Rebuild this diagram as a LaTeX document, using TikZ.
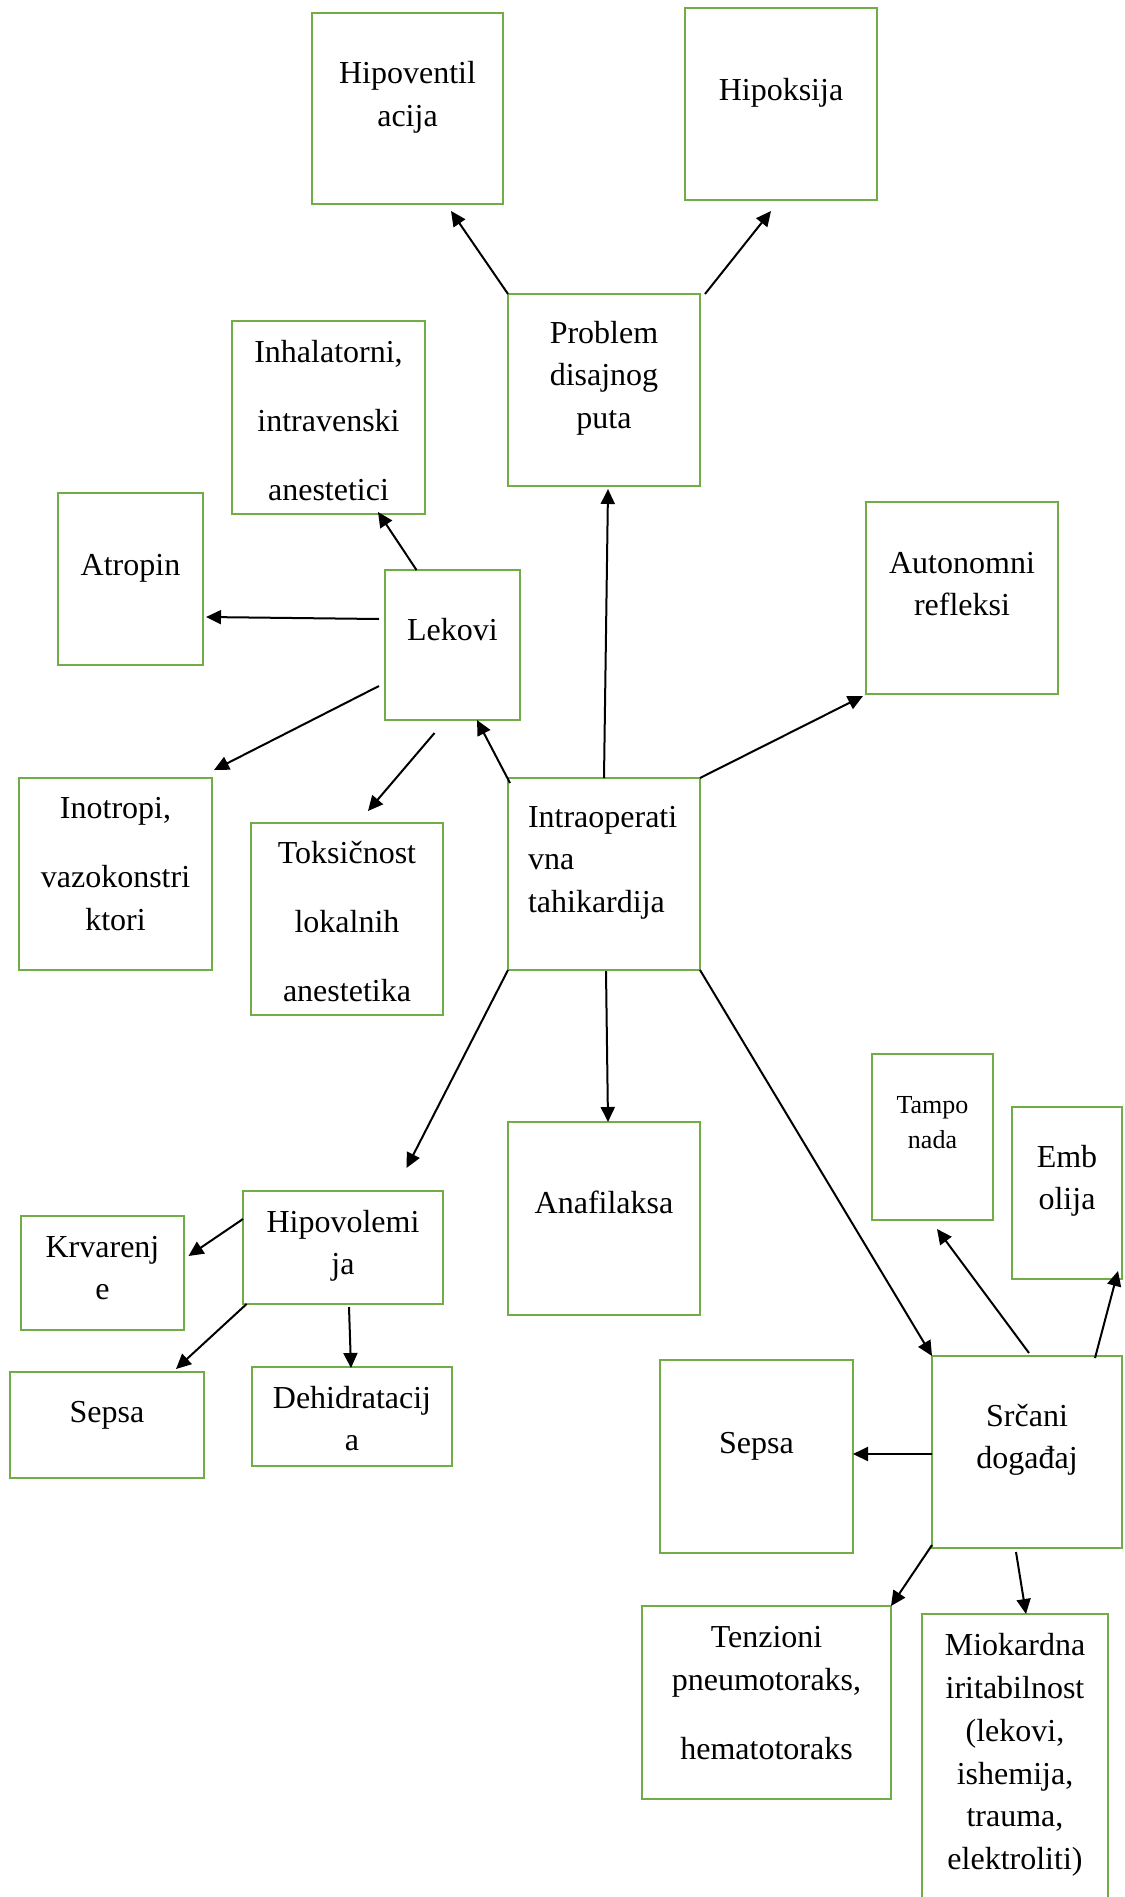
\documentclass[tikz,border=0pt]{standalone}
\usepackage{fontspec}
\setmainfont{Liberation Serif}
\usetikzlibrary{arrows.meta,calc}
\definecolor{boxgreen}{RGB}{112,173,71}
\newcommand\bxt[4]{\parbox[c][#2][t]{#1}{\centering\rule{0pt}{\dimexpr#3+1pt\relax}#4}}
\newcommand\bxl[5]{\parbox[c][#2][t]{#1}{\raggedright\leftskip=#5\relax\rule{0pt}{\dimexpr#3+1pt\relax}#4}}
\begin{document}
\begin{tikzpicture}[x=1pt,y=-1pt,
  box/.style={draw=boxgreen,line width=2.5pt,inner sep=0pt,outer sep=0pt,anchor=north west,font=\fontsize{32}{42.8}\selectfont},
  arr/.style={draw=black,line width=2pt,-{Triangle[length=15pt,width=14pt]}}]
\fill[white] (0,0) rectangle (1124,1897);
\useasboundingbox (0,0) rectangle (1124,1897);

\node[box] (hvent) at (312,13) {\bxt{191pt}{191pt}{69.5pt}{Hipoventil\\acija}};
\node[box] (hoks) at (685,8) {\bxt{192pt}{192pt}{92pt}{Hipoksija}};
\node[box] (prob) at (508,294) {\bxt{192pt}{192pt}{48pt}{Problem\\disajnog\\puta}};
\node[box] (inhal) at (232,321) {\bxt{193pt}{193pt}{40pt}{Inhalatorni,\\[26.2pt]intravenski\\[26.2pt]anestetici}};
\node[box] (atro) at (58,493) {\bxt{145pt}{172pt}{81.6pt}{Atropin}};
\node[box] (lek) at (385,570) {\bxt{135pt}{150pt}{69pt}{Lekovi}};
\node[box] (auto) at (866,502) {\bxt{192pt}{192pt}{70pt}{Autonomni\\refleksi}};
\node[box] (inot) at (19,778) {\bxt{193pt}{192pt}{39.5pt}{Inotropi,\\[26.2pt]vazokonstri\\ktori}};
\node[box] (toks) at (251,823) {\bxt{192pt}{192pt}{39pt}{Toksičnost\\[26.2pt]lokalnih\\[26.2pt]anestetika}};
\node[box] (intra) at (508,778) {\bxl{192pt}{192pt}{48pt}{Intraoperati\\vna\\tahikardija}{20pt}};
\node[box] (hvol) at (243,1191) {\bxt{200pt}{113pt}{40pt}{Hipovolemi\\ja}};
\node[box] (krv) at (21,1216) {\bxt{163pt}{114pt}{40pt}{Krvarenj\\e}};
\node[box] (ana) at (508,1122) {\bxt{192pt}{193pt}{90.7pt}{Anafilaksa}};
\node[box,font=\fontsize{26}{35}\selectfont] (tamp) at (872,1054) {\bxt{121pt}{166pt}{58.7pt}{Tampo\\nada}};
\node[box] (emb) at (1012,1107) {\bxt{110pt}{172pt}{59pt}{Emb\\olija}};
\node[box] (seps1) at (10,1372) {\bxt{194pt}{106pt}{49pt}{Sepsa}};
\node[box] (dehid) at (252,1367) {\bxt{200pt}{99pt}{40pt}{Dehidratacij\\a}};
\node[box] (seps2) at (660,1360) {\bxt{193pt}{193pt}{92pt}{Sepsa}};
\node[box] (srcani) at (932,1356) {\bxt{190pt}{192pt}{69pt}{Srčani\\događaj}};
\node[box] (tenz) at (642,1606) {\bxt{249pt}{193pt}{40.6pt}{Tenzioni\\pneumotoraks,\\[26.2pt]hematotoraks}};
\node[box] (miok) at (922,1614) {\bxt{186pt}{296pt}{40.6pt}{Miokardna\\iritabilnost\\(lekovi,\\ishemija,\\trauma,\\elektroliti)}};

\draw[arr] (prob.north west) -- ($(hvent.south east)+(-52,7)$);
\draw[arr] ($(prob.north east)+(5,0)$) -- ($(hoks.south)+(-10,11)$);
\draw[arr] (intra.north) -- ($(prob.south)+(4,3)$);
\draw[arr] ($(lek.north west)+(31.5,0)$) -- ($(inhal.south east)+(-47,-2)$);
\draw[arr] ($(lek.west)+(-6,-26)$) -- ($(atro.east)+(3,38)$);
\draw[arr] ($(lek.west)+(-6,41)$) -- ($(inot.north east)+(2,-8)$);
\draw[arr] ($(lek.south)+(-18,13)$) -- ($(toks.north)+(21,-12)$);
\draw[arr] ($(intra.north west)+(2,5)$) -- ($(lek.south east)+(-43,0)$);
\draw[arr] (intra.north east) -- ($(auto.south west)+(-3,2)$);
\draw[arr] (intra.south west) -- ($(hvol.north east)+(-36.5,-23)$);
\draw[arr] ($(intra.south)+(2,1)$) -- ($(ana.north)+(4,0)$);
\draw[arr] (intra.south east) -- (srcani.north west);
\draw[arr] ($(hvol.north west)+(0,28)$) -- ($(krv.east)+(4.5,-17)$);
\draw[arr] ($(hvol.south west)+(3.6,0)$) -- ($(seps1.north east)+(-28,-3)$);
\draw[arr] ($(hvol.south)+(6,3)$) -- ($(dehid.north)+(-1,1)$);
\draw[arr] ($(srcani.north)+(2,-3)$) -- ($(tamp.south)+(4.5,9)$);
\draw[arr] ($(srcani.north east)+(-27,2)$) -- ($(emb.south east)+(-4,-8)$);
\draw[arr] ($(srcani.west)+(0,2)$) -- ($(seps2.east)+(0,-2.5)$);
\draw[arr] ($(srcani.south west)+(0,-3)$) -- (tenz.north east);
\draw[arr] ($(srcani.south)+(-11,4)$) -- ($(miok.north)+(11,0)$);
\end{tikzpicture}
\end{document}
